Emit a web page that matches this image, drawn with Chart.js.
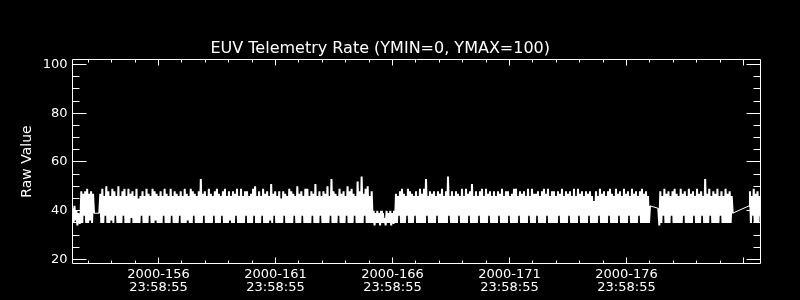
<!DOCTYPE html>
<html>
<head>
<meta charset="utf-8">
<script src="https://cdn.jsdelivr.net/npm/chart.js@4.4.0/dist/chart.umd.min.js"></script>
<style>
  body { margin: 0; background: #000; }
  canvas { display: block; }
</style>
</head>
<body>
<canvas id="euvChart" width="800" height="300"></canvas>
<script>
// x axis: day of year 2000, every tick is at 23:58:55
const tickDays = [156, 161, 166, 171, 176];
const tickTime = '23:58:55';
const dayFrac = 86335 / 86400;
const yTicks = [20, 40, 60, 80, 100];

// segments of telemetry: [start day, end day], then raw values (low/high samples)
const segDays = [
  [153.324, 154.243],
  [154.469, 166.110],
  [166.153, 167.063],
  [167.106, 178.003],
  [178.358, 181.538],
  [182.235, 182.760]
];

const segA = [41,35,42,36,40,34,39,35, 35,48,35,47,38,48,35,49,35,47,36,48,35,47, 39];

const segB = [
  39,47,35,49,35,46,38,50,35,48,35,46,36,49,35,48,38,46,35,50,
  35,46,35,48,38,49,35,46,35,49,35,47,37,48,35,46,35,49,35,45,
  35,46,38,48,35,46,35,49,35,47,38,46,35,49,35,48,36,47,35,46,
  35,48,35,46,38,49,35,47,35,46,35,49,38,46,35,48,35,47,35,46,
  38,48,35,46,35,49,35,47,36,46,35,49,35,48,38,47,35,46,35,48,
  35,53,35,47,38,48,35,46,35,49,35,47,35,46,38,48,35,49,35,47,
  35,46,38,48,35,49,35,46,35,48,36,46,35,48,35,47,38,49,35,46,
  35,49,35,46,35,48,38,48,35,46,35,47,35,49,38,50,35,46,35,48,
  35,46,38,49,35,47,35,48,35,46,36,51,35,47,38,48,35,46,35,48,
  35,45,35,48,38,47,35,46,35,49,35,48,35,47,38,46,35,50,35,47,
  35,48,38,46,35,49,35,49,35,46,35,48,38,47,35,51,35,46,35,48,
  38,46,35,48,35,47,35,50,35,46,38,53,35,48,35,47,35,46,38,49,
  35,47,35,48,35,46,38,50,35,48,35,49,35,47,38,46,35,52,35,48,
  35,54,35,47,38,49,35,50,35,46,35,48
];

// day 166-167: lower readings
const segLow = [35,40,34,39,35,40,35,39,34,40,35,39,35,37,34,40,35,39,35,40,34,39,35,40];

const segC = [
  35,47,35,46,38,48,35,49,35,47,35,46,38,49,35,48,35,47,35,46,
  38,48,35,46,35,49,35,47,35,49,35,53,38,46,35,48,35,47,35,48,
  35,46,38,48,35,47,35,49,35,46,35,48,35,54,38,46,35,48,35,46,
  35,48,35,47,38,46,35,49,35,46,35,49,35,47,38,48,35,51,35,46,
  35,48,35,46,38,48,35,49,35,46,35,49,35,47,38,48,35,46,35,48,
  35,46,35,48,38,47,35,49,35,46,35,48,35,48,38,46,35,47,35,49,
  35,49,35,46,38,48,35,47,35,48,35,46,35,49,38,46,35,49,35,47,
  35,47,38,48,35,46,35,48,35,49,35,47,38,49,35,46,35,48,35,48,
  35,46,35,48,38,47,35,49,35,46,35,48,35,47,38,48,35,46,35,49,
  35,46,35,49,38,47,35,48,35,46,35,48,35,47,38,48,35,46,35,44,
  35,48,35,46,38,49,35,47,35,48,35,46,35,48,38,49,35,47,35,46,
  35,49,35,47,38,48,35,46,35,49,35,47,35,48,38,46,35,49,35,47,
  35,48,35,46,38,48,35,49,35,47,35,48,35,46,35,42
];

const segD = [
  41,34,48,35,46,38,49,35,47,35,48,35,46,38,48,35,49,35,47,35,46,
  35,49,35,47,38,48,35,46,35,49,35,47,35,48,38,46,35,49,35,47,
  35,48,38,46,35,53,35,47,35,49,38,46,35,48,35,47,35,49,35,46,
  38,48,35,46,35,49,35,47,35,48,35,46,39
];

const segE = [42,48,35,46,38,49,35,47,35,48,35,46,38,47];

const segments = [segA, segB, segLow, segC, segD, segE];

// spread each segment's samples evenly over its time span
const points = [];
segments.forEach((vals, s) => {
  const [t0, t1] = segDays[s];
  const step = (t1 - t0) / (vals.length - 1);
  vals.forEach((v, i) => points.push({ x: t0 + i * step, y: v }));
});

// IDL style box with inward ticks
const frameTicks = {
  id: 'frameTicks',
  afterDatasetsDraw(chart) {
    const { ctx, chartArea: a, scales: { x, y } } = chart;
    ctx.save();
    ctx.strokeStyle = '#fff';
    ctx.lineWidth = 1;
    ctx.beginPath();
    ctx.rect(a.left, a.top, a.right - a.left, a.bottom - a.top);
    for (let v = yTicks[0]; v <= yTicks[yTicks.length - 1]; v += 5) {
      const py = Math.round(y.getPixelForValue(v) - 0.5) + 0.5;
      const len = yTicks.includes(v) ? 14 : 7;
      ctx.moveTo(a.left, py); ctx.lineTo(a.left + len, py);
      ctx.moveTo(a.right, py); ctx.lineTo(a.right - len, py);
    }
    for (let d = Math.floor(x.min); d + dayFrac < x.max; d++) {
      if (d + dayFrac <= x.min) continue;
      const px = Math.round(x.getPixelForValue(d + dayFrac) - 0.5) + 0.5;
      const len = (d - tickDays[0]) % 5 === 0 ? 6 : 3;
      ctx.moveTo(px, a.bottom); ctx.lineTo(px, a.bottom - len);
      ctx.moveTo(px, a.top); ctx.lineTo(px, a.top + len);
    }
    ctx.stroke();
    ctx.restore();
  }
};

Chart.defaults.font.family = 'DejaVu Sans';
Chart.defaults.color = '#fff';

new Chart(document.getElementById('euvChart'), {
  type: 'line',
  data: {
    datasets: [{
      data: points,
      borderColor: '#fff',
      borderWidth: 2,
      borderJoinStyle: 'bevel',
      pointRadius: 0,
      tension: 0,
      // thin line across data gaps
      segment: {
        borderWidth: c => (c.p1.parsed.x - c.p0.parsed.x > 0.1 ? 1 : 2)
      }
    }]
  },
  options: {
    responsive: false,
    animation: false,
    layout: { padding: { left: 0, right: 39.5, top: 0, bottom: 0 } },
    plugins: {
      legend: { display: false },
      tooltip: { enabled: false },
      title: {
        display: true,
        text: 'EUV Telemetry Rate (YMIN=0, YMAX=100)',
        color: '#fff',
        font: { size: 16, weight: 'normal' },
        padding: { top: 39, bottom: 1.3 }
      }
    },
    scales: {
      x: {
        type: 'linear',
        min: 153.324,
        max: 182.726,
        grid: { display: false, drawTicks: false },
        border: { display: false },
        afterBuildTicks: s => { s.ticks = tickDays.map(d => ({ value: d + dayFrac })); },
        afterFit: s => { s.height = 36.5; },
        ticks: {
          color: '#fff',
          font: { size: 13, lineHeight: 1.0 },
          padding: 5,
          maxRotation: 0,
          autoSkip: false,
          callback: v => ['2000-' + Math.floor(v), tickTime]
        }
      },
      y: {
        min: 18.36,
        max: 102.05,
        grid: { display: false, drawTicks: false },
        border: { display: false },
        afterBuildTicks: s => { s.ticks = yTicks.map(v => ({ value: v })); },
        afterFit: s => { s.width = 72.5; },
        ticks: { color: '#fff', font: { size: 13 }, padding: 5 },
        title: {
          display: true,
          text: 'Raw Value',
          color: '#fff',
          font: { size: 14 },
          padding: { top: 19, bottom: 0 }
        }
      }
    }
  },
  plugins: [frameTicks]
});
</script>
</body>
</html>
